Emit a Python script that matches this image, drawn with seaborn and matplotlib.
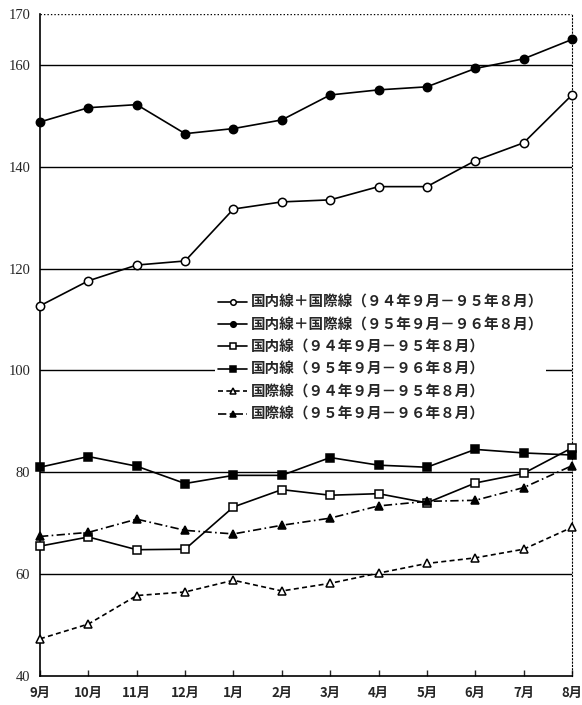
import numpy as np
import pandas as pd
import matplotlib
matplotlib.use("Agg")
import matplotlib.pyplot as plt
import seaborn as sns

months = ["9月", "10月", "11月", "12月", "1月", "2月", "3月", "4月", "5月", "6月", "7月", "8月"]

total_9495 = [112.7, 117.6, 120.7, 121.5, 131.7, 133.1, 133.5, 136.1, 136.1, 141.2, 144.7, 154.1]
total_9596 = [148.8, 151.6, 152.2, 146.5, 147.5, 149.2, 154.1, 155.1, 155.7, 159.3, 161.2, 165.0]
dom_9495 = [65.5, 67.3, 64.8, 64.9, 73.2, 76.6, 75.5, 75.8, 74.0, 77.9, 79.8, 84.8]
dom_9596 = [81.0, 83.1, 81.2, 77.8, 79.4, 79.4, 82.9, 81.4, 81.0, 84.5, 83.8, 83.4]
intl_9495 = [47.3, 50.2, 55.8, 56.5, 58.8, 56.7, 58.2, 60.2, 62.1, 63.2, 64.9, 69.2]
intl_9596 = [67.4, 68.2, 70.8, 68.6, 67.9, 69.6, 71.0, 73.4, 74.3, 74.5, 77.0, 81.3]

labels = [
    "国内線＋国際線（９４年９月－９５年８月）",
    "国内線＋国際線（９５年９月－９６年８月）",
    "国内線（９４年９月－９５年８月）",
    "国内線（９５年９月－９６年８月）",
    "国際線（９４年９月－９５年８月）",
    "国際線（９５年９月－９６年８月）",
]
y_ticks = [40, 60, 80, 100, 120, 140, 160, 170]

sns.set_style("white")
plt.rcParams['font.family'] = ['Noto Sans CJK JP', 'DejaVu Sans']

fig = plt.figure(figsize=(5.82, 7.05), dpi=100)
ax = fig.add_axes([40/582, 1-676/705, 532/582, 662/705])

x = np.arange(len(months))
series = [
    (total_9495, 'o', 'white', '-'),
    (total_9596, 'o', 'black', '-'),
    (dom_9495, 's', 'white', '-'),
    (dom_9596, 's', 'black', '-'),
    (intl_9495, '^', 'white', (0, (3, 2))),
    (intl_9596, '^', 'black', (0, (5, 2, 1, 2))),
]
for (vals, mk, fc, ls), lab in zip(series, labels):
    sns.lineplot(x=x, y=vals, ax=ax, color='black', marker=mk, markersize=6,
                 markerfacecolor=fc, markeredgecolor='black', markeredgewidth=1.1,
                 linewidth=1.2, linestyle=ls, label=lab, clip_on=False, zorder=3)

ax.set_xlim(0, 11)
ax.set_ylim(40, 170)
for v in [60, 80, 100, 120, 140, 160]:
    ax.axhline(v, color='black', linewidth=1.0, zorder=1)
ax.axhline(170, color='black', linewidth=1.0, linestyle=(0, (1, 1.5)), zorder=1)

ax.set_yticks(y_ticks)
ax.set_yticklabels([str(t) for t in y_ticks], fontfamily='Liberation Serif', fontsize=10.5)
ax.set_xticks(x)
ax.set_xticklabels(months, fontsize=9.5, fontweight='bold')
ax.tick_params(axis='x', direction='in', length=4, width=1, pad=7, bottom=True)
ax.tick_params(axis='y', length=0, pad=7)
ax.set_xlabel("")
ax.set_ylabel("")

for s in ['left', 'bottom']:
    ax.spines[s].set_visible(True)
    ax.spines[s].set_color('black')
    ax.spines[s].set_linewidth(1.2)
ax.spines['top'].set_visible(False)
ax.spines['right'].set_linestyle((0, (1, 2)))
ax.spines['right'].set_color('black')
ax.spines['right'].set_linewidth(0.8)

leg = ax.legend(loc='upper left', bbox_to_anchor=(0.329, 0.582), frameon=True,
                facecolor='white', edgecolor='none', framealpha=1.0, fancybox=False,
                prop={'family': ['Noto Sans CJK JP', 'DejaVu Sans'], 'size': 10.5, 'weight': 'bold'},
                handlelength=2.0, handletextpad=0.25,
                labelspacing=0.44, borderaxespad=0, borderpad=0.2)
leg.set_zorder(5)
for h in leg.legend_handles:
    h.set_markersize(4)

fig.savefig("out.png", dpi=100)
